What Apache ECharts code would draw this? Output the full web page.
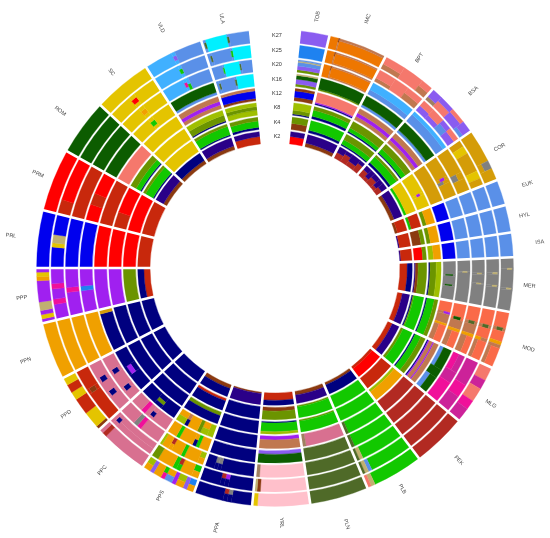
<!DOCTYPE html>
<html><head><meta charset="utf-8">
<style>html,body{margin:0;padding:0;background:#fff}#c{width:550px;height:538px}</style>
<script src="https://cdn.jsdelivr.net/npm/echarts@6/dist/echarts.min.js"></script>
</head><body><div id="c"></div>
<script>
// ring names, innermost first
const ringNames = ["K2","K4","K8","K12","K16","K20","K25","K27"];
// sample groups clockwise from the top, with the share of the circle (degrees) each one takes
const groupNames = ["TOB","IMC","BPT","BSA","COR","EUK","HYL","ISA","MER","MOD","MLG","PEK","PLB","PLN","YRL","PPA","PPS","PPC","PPD","PPN","PPP","PRL","PRM","ROM","SC","VLD","ULA"];
const groupWidths = [7.2,14.4,13.8,13.7,13.3,6.3,6.7,6,13.2,14.1,15,13.2,14.3,14.3,14,14.3,13.8,13.8,15.2,14,13.4,14,15.3,13.7,14.3,14.7,12];
const leadingGap = 6;
const clusterColors = {n:"#00007f",v:"#2a0088",r:"#ff0000",R:"#c8280c",b:"#b22a22",w:"#8b3a10",g:"#12c800",o:"#6b9400",y:"#9fbf00",d:"#0c5c00",O:"#ee7700",A:"#d49c08",S:"#f5786c",T:"#fa6a48",k:"#ffc0cb",M:"#cc2299",H:"#f0109a",V:"#8a5cf0",P:"#a020f0",D:"#1e82f0",C:"#5a90e8",c:"#00f0ff",s:"#40b0ff",Y:"#e4c400",G:"#808080",a:"#f0a000",L:"#d87090",l:"#4f6a28",B:"#0000ee",t:"#c0b070",m:"#c07850",f:"#a08060"};
// each cell: columns split by |, optional "width:" prefix, layers inner to outer as letter+share
const TOB = ["r6 v4","w5 o5","n1 o3 y6","w3 B5 w2","o2 V4 d3 t1","o2 V3 C3 t1 C1","D","V"];
const IMC = ["w3 v7","n2 g8","n2 g5 o3","n1 P1 S8","o1 d9","8:O|1:m7 w3|40:m1 O8 m1","8:O|1:m7 w3|40:m1 O8 m1","8:O|1:m7 w3|40:O8 m2"];
const BPT = ["4:b5 v5|3:b7 v3|4:b4 v6|3:b7 v3","n1 g4 o5","n1 g3 o6","m3 P3 m4","C2 d8","C4 s6","5:m3 S7|4:S|5:m5 S5","5:m4 S6|5:S|3:m5 S5"];
const BSA = ["3:b6 v4|2:b3 v7|3:b6 v4|2:b3 v7|3:b5 v5","n2 g6 o2","n1 g4 o5","m3 P3 m4","C2 d8","C7 s3","4:V5 S5|4:V4 S6|3:C6 V4|4:V6 S4","3:f3 V7|4:S6 V4|4:V7 S3|3:C3 V7"];
const COR = ["w3 v7","g2 Y8","8:Y|1:Y4 P3 Y3|5:Y","A","7:A|1:A3 P4 A3|1:G5 A5|5:A","8:A|2:G5 A5|4:A","2:A|2:Y|5:A|2:Y|2:A","8:A|2:A4 G6|3:A"];
const EUK = ["w2 R8","g2 R8","o3 a7","B","C","C","C","C"];
const HYL = ["v1 R9","w7 o3","o3 a7","B","C","C","C","C"];
const ISA = ["v1 R9","r7 o3","y4 a6","B","C","C","C","C"];
const MER = ["R6 n4","v1 w2 o7","n1 o5 y4","10:G|1:G2 d6 G2|6:G|1:G2 d6 G2|10:G","8:G|1:G4 t4 G2|20:G","10:G|1:G4 t4 G2|6:G|1:G4 t4 G2|15:G","8:G|1:G5 t4 G1|6:G|1:G5 t4 G1|12:G","6:G|1:G5 t4 G1|10:G|1:G5 t4 G1|12:G"];
const MOD = ["R4 v6","n1 o1 g8","n1 g6 o3","5:T|1:m5 P5|4:m|1:a|8:m4 T6","5:T|1:T2 d6 T2|3:m|1:a|6:m4 T6","5:T|1:m3 l5 m2|3:m|1:a|6:m5 T5","5:T|1:m3 l5 m2|3:T|1:a5 m5|6:m3 T7","5:T|1:m3 l5 m2|3:T|1:a|1:m|6:m3 T7"];
const MLG = ["R4 v6","o2 g8","n1 g5 o4","n1 P1 m3 P1 m4","5:C3 d7|2:d|4:C4 d6","5:H5 M5|3:M|6:H","6:M|3:H|4:M","3:S|2:M|3:S|2:H|3:M"];
const PEK = ["R2 r8","R","y2 a8","b","b","b","b","b"];
const PLB = ["w2 n8","g","g","10:g|1:l","10:g|1:l","12:g|1:t|1:l","12:g|1:C|1:t|1:l","12:g|1:t|1:S"];
const PLN = ["w3 v7","o1 g9","o1 g9","9:L|1:f","l","l","l","l"];
const YRL = ["R6 n4","w3 o7","n1 g7 y2","P3 m7","V3 d7","10:k|1:f","14:k|1:w|1:t","10:k|1:Y"];
const PPA = ["w1 v9","n","n","n","n","10:n|1:G5 n5|1:G5 n5|3:n","6:n|1:P4 n6|1:b4 n6|5:n","5:n|1:G4 n6|1:b4 n6|7:n"];
const PPS = ["w3 n7","R2 n8","o3 n7","2:y|2:a5 y5|1:o|3:a|1:m5 n5|3:a5 y5","3:a|1:g|1:a5 n5|4:a|1:g|3:a","2:y5 a5|4:a|1:g|3:a|1:b5 a5|2:a|1:y","2:g5 a5|3:a|1:b5 g5|1:g|4:a|2:o","2:D5 a5|1:V|2:y5 a5|1:P|2:a5 C5|1:g5 H5|2:a|1:V|2:y5 a5"];
const PPC = ["n","n","n","2:n|1:n4 o3 n3|2:n","4:L|1:L4 n4 L2|1:L|1:H|3:L","5:L|1:H|1:G|4:L","10:L5 L5|1:L3 n4 L3|1:L","10:L|1:b|1:L"];
const PPD = ["n","n","n","2:n|1:n4 P4 n2|2:n","2:L|1:L3 n5 L2|3:L|1:L3 n5 L2|3:L","3:L|1:L3 n5 L2|2:L|1:L3 n5 L2|3:L","6:R|1:R3 w5 R2|4:R","1:w|4:Y|4:R|2:Y|2:R|2:Y"];
const PPN = ["n","n","n","9:n|1:A","a","a","a","a"];
const PPP = ["R5 n5","o","P","P","5:P|1:D|4:P","5:P|1:H|4:P","3:P|1:H|2:P|1:H|3:P","1:P|1:Y|1:P|2:t|5:P|1:a|1:Y|1:P"];
const PRL = ["R","r","r","r","B","B","5:B|1:Y|2:t|5:B","B"];
const PRM = ["R","r","3:R|5:r","R","3:r|2:R|4:r","R","2:R|6:r","r"];
const ROM = ["w3 v7","n1 g7 o2","n1 g4 o5","S","d","d","d","d"];
const SC = ["w3 n7","Y","Y","Y","4:Y|1:Y3 g4 Y3|4:Y","4:Y|1:Y3 a4 Y3|4:Y","4:Y|1:Y3 r4 Y3|4:Y","Y"];
const VLD = ["w3 v7","n1 g7 o2","n1 o5 y4","m3 P3 m4","C2 d8","8:s|1:s3 H4 s3|1:g5 s5|8:C","8:s|1:s3 g4 s3|8:C","8:s|1:s3 V4 s3|8:C"];
const ULA = ["R6 v4","n2 g5 o3","y4 o3 y3","w2 B6 m2","2:C|1:C3 l5 C2|8:C|1:C3 l5 C2|10:c","8:C|1:C3 g5 C2|10:c|1:C3 l5 C2|8:C","2:C|1:C3 l5 C2|10:C|1:C3 g5 C2|10:c","1:C|1:C3 l5 C2|10:c|1:C3 l5 C2|10:C"];
const groupCells = [TOB,IMC,BPT,BSA,COR,EUK,HYL,ISA,MER,MOD,MLG,PEK,PLB,PLN,YRL,PPA,PPS,PPC,PPD,PPN,PPP,PRL,PRM,ROM,SC,VLD,ULA];

// ring geometry in radius-axis units
const ringStart = 125, ringStep = 14.44, ringThick = 12.3;
const cx = 275, cy = 268;

const marks = [], seps = [], labels = [];
let a = leadingGap;
seps.push(a);
groupNames.forEach(function(name, gi){
  const w = groupWidths[gi];
  groupCells[gi].forEach(function(cell, ri){
    const r0 = ringStart + ri*ringStep;
    const cols = cell.split("|").map(function(c){
      const i = c.indexOf(":");
      return i<0 ? {w:1,s:c} : {w:+c.slice(0,i),s:c.slice(i+1)};
    });
    const tot = cols.reduce(function(t,c){return t+c.w;},0);
    let ca = a;
    cols.forEach(function(c){
      const cw = w*c.w/tot;
      const layers = c.s.split(" ").map(function(l){return {k:l[0],v:l.length>1?+l.slice(1):1};});
      const lt = layers.reduce(function(t,l){return t+l.v;},0);
      let cr = r0;
      layers.forEach(function(l){
        const h = ringThick*l.v/lt;
        marks.push({a0:ca,a1:ca+cw,r0:cr,r1:cr+h,color:clusterColors[l.k]});
        cr += h;
      });
      ca += cw;
    });
  });
  labels.push({text:name,angle:a+w/2,radius:gi%2===0?255:266});
  a += w;
  seps.push(a);
});

function renderMark(params, api){
  const m = marks[params.dataIndex];
  const p0 = api.coord([m.r0,m.a0]), p1 = api.coord([m.r0,m.a1]);
  return {type:'sector',shape:{cx:cx,cy:cy,r0:m.r0,r:m.r1,startAngle:-p0[3],endAngle:-p1[3],clockwise:true},
    style:{fill:m.color,stroke:m.color,lineWidth:0.35}};
}
function renderSep(params, api){
  const v = seps[params.dataIndex];
  const p0 = api.coord([119,v]), p1 = api.coord([243,v]);
  return {type:'line',shape:{x1:p0[0],y1:p0[1],x2:p1[0],y2:p1[1]},style:{stroke:'#fff',lineWidth:2.6}};
}
function renderLabel(params, api){
  const l = labels[params.dataIndex];
  const p = api.coord([l.radius,l.angle]);
  const deg = l.angle<180 ? 90-l.angle : 270-l.angle;
  return {type:'text',x:p[0],y:p[1],rotation:deg*Math.PI/180,
    style:{text:l.text,x:0,y:0,align:'center',verticalAlign:'middle',fontSize:5.5,fontFamily:'"Liberation Sans",Arial,sans-serif',fill:'#444'}};
}
function renderRing(params, api){
  const i = params.dataIndex;
  const p = api.coord([ringStart+i*ringStep+ringThick/2,0]);
  return {type:'text',x:p[0]+2,y:p[1],
    style:{text:ringNames[i],x:0,y:0,align:'center',verticalAlign:'middle',fontSize:5.5,fontFamily:'"Liberation Sans",Arial,sans-serif',fill:'#333'}};
}
const chart = echarts.init(document.getElementById('c'),null,{renderer:'canvas'});
chart.setOption({
  animation:false,
  backgroundColor:'#fff',
  polar:{center:[cx,cy],radius:300},
  angleAxis:{type:'value',min:0,max:360,startAngle:90,clockwise:true,show:false},
  radiusAxis:{type:'value',min:0,max:300,show:false},
  series:[
    {type:'custom',coordinateSystem:'polar',clip:false,silent:true,renderItem:renderMark,data:marks.map(function(m){return [m.r0,m.a0];}),encode:{radius:0,angle:1},z:1},
    {type:'custom',coordinateSystem:'polar',clip:false,silent:true,renderItem:renderSep,data:seps.map(function(v){return [243,v];}),encode:{radius:0,angle:1},z:2},
    {type:'custom',coordinateSystem:'polar',clip:false,silent:true,renderItem:renderLabel,data:labels.map(function(l){return [l.radius,l.angle];}),encode:{radius:0,angle:1},z:3},
    {type:'custom',coordinateSystem:'polar',clip:false,silent:true,renderItem:renderRing,data:ringNames.map(function(n,i){return [ringStart+i*ringStep,0];}),encode:{radius:0,angle:1},z:3}
  ]
});
</script></body></html>
